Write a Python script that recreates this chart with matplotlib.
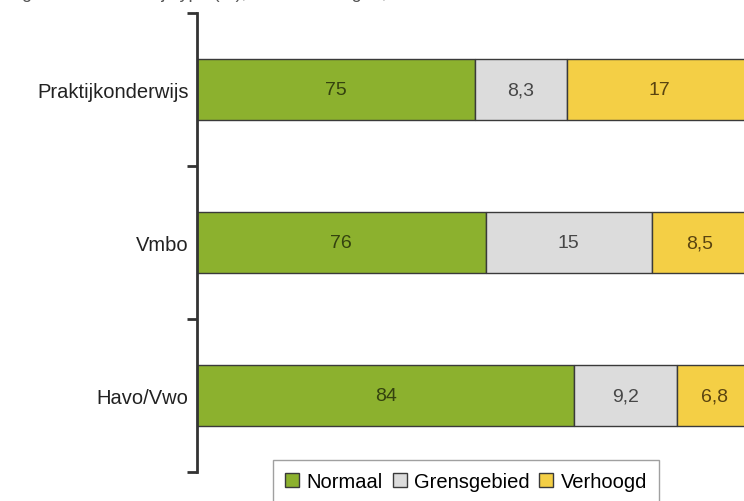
import matplotlib
matplotlib.use("Agg")
import matplotlib.pyplot as plt
import numpy as np

categories = ["Praktijkonderwijs", "Vmbo", "Havo/Vwo"]
normaal = [75, 76, 84]
grensgebied = [8.3, 15, 9.2]
verhoogd = [17, 8.5, 6.8]
labels_normaal = ["75", "76", "84"]
labels_grens = ["8,3", "15", "9,2"]
labels_verhoogd = ["17", "8,5", "6,8"]
series_names = ["Normaal", "Grensgebied", "Verhoogd"]

colors = ["#8cb12e", "#dcdcdc", "#f4cf45"]
text_colors = ["#34420f", "#474747", "#5a4410"]

plt.rcParams['font.family'] = ['Liberation Sans', 'DejaVu Sans']

fig = plt.figure(figsize=(7.44, 5.02), dpi=100)
ax = fig.add_axes([197 / 744, 1 - 473 / 502, 555 / 744, 459 / 502])

y = np.arange(len(categories))
left = np.zeros(len(categories))
for vals, labs, col, tcol, name in zip([normaal, grensgebied, verhoogd],
                                      [labels_normaal, labels_grens, labels_verhoogd],
                                      colors, text_colors, series_names):
    bars = ax.barh(y, vals, left=left, height=0.4, color=col,
                   edgecolor="#3a3a3a", linewidth=1.0, label=name)
    ax.bar_label(bars, labels=labs, label_type='center', color=tcol, fontsize=14)
    left = left + np.array(vals)

ax.set_xlim(50, 100)
ax.set_ylim(2.5, -0.5)

# category boundaries get the ticks, names sit between them
ax.set_yticks(np.arange(-0.5, len(categories), 1.0))
ax.set_yticklabels([])
ax.tick_params(axis='y', which='major', direction='out', length=7, width=2, color="#333333")
ax.set_yticks(y, minor=True)
ax.set_yticklabels(categories, minor=True, fontsize=14.5, color="#222222")
ax.tick_params(axis='y', which='minor', length=0, pad=6)

ax.set_xticks([])
for s in ['top', 'right', 'bottom']:
    ax.spines[s].set_visible(False)
ax.spines['left'].set_linewidth(2)
ax.spines['left'].set_color("#333333")

fig.text(432 / 744, 1 - 2 / 502,
         "Psychosociale problemen bij leerlingen naar onderwijstype (%), GGD Groningen, 2012",
         ha='right', va='bottom', fontsize=13, color="#555555")

leg = fig.legend(loc='upper center', bbox_to_anchor=(466 / 744, 1 - 461 / 502),
                 ncol=3, fontsize=14.5, frameon=True, fancybox=False,
                 handlelength=0.7, handleheight=0.7, handletextpad=0.35,
                 columnspacing=0.5, borderpad=0.6, borderaxespad=0)
leg.get_frame().set_edgecolor("#888888")
leg.get_frame().set_linewidth(1.0)

fig.savefig("out.png", dpi=100)
